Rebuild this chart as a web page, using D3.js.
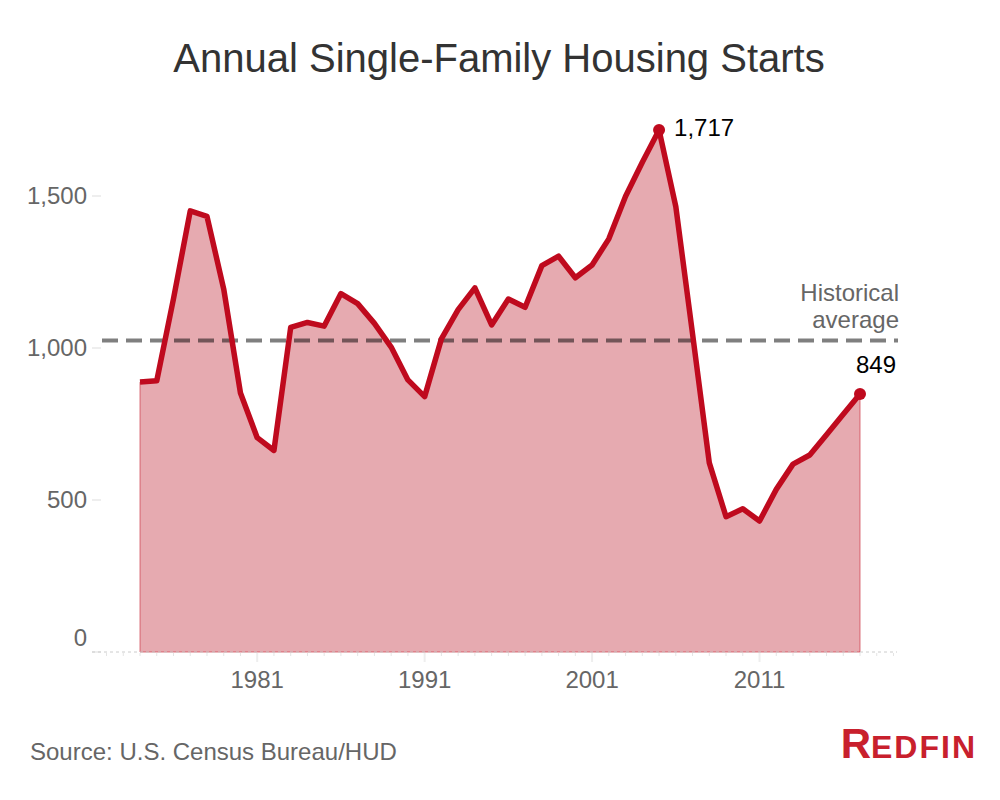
<!DOCTYPE html>
<html>
<head>
<meta charset="utf-8">
<script src="https://cdn.jsdelivr.net/npm/d3@7"></script>
<style>
  html, body { margin: 0; padding: 0; background: #fff; }
  svg { display: block; font-family: "Liberation Sans", Arial, Helvetica, sans-serif; }
</style>
</head>
<body>
<svg id="chart" width="1000" height="800"></svg>
<script>
// ---- data ----
const years = [1974,1975,1976,1977,1978,1979,1980,1981,1982,1983,1984,1985,1986,1987,1988,1989,1990,1991,1992,1993,1994,1995,1996,1997,1998,1999,2000,2001,2002,2003,2004,2005,2006,2007,2008,2009,2010,2011,2012,2013,2014,2015,2016,2017];
const starts = [888,892,1162,1451,1433,1194,852,705,663,1068,1084,1072,1179,1146,1081,1003,895,840,1030,1126,1198,1076,1161,1134,1271,1302,1231,1273,1359,1499,1611,1717,1465,1046,622,445,471,431,535,618,648,715,782,849];
const historicalAverage = [1025];
const yTickValues = [0, 500, 1000, 1500];
const xTickLabels = [1981, 1991, 2001, 2011];
const minorTickYears = d3.range(1972, 2020);
const highlightYears = [2005, 2017];
const titleText = "Annual Single-Family Housing Starts";
const sourceText = "Source: U.S. Census Bureau/HUD";
const avgLabel = ["Historical", "average"];

const data = years.map((y, i) => ({ year: y, value: starts[i] }));

const svg = d3.select("#chart");
const x = d3.scaleLinear().domain([1974, 2017]).range([140, 860]);
const y = d3.scaleLinear().domain([0, 1500]).range([652, 196]);
const fmt = d3.format(",");

// title
svg.append("text")
  .attr("x", 499).attr("y", 72)
  .attr("text-anchor", "middle")
  .attr("font-size", 40)
  .attr("fill", "#333")
  .text(titleText);

// y-axis ticks & labels
const yg = svg.append("g");
yg.selectAll("line").data(yTickValues).join("line")
  .attr("x1", 92).attr("x2", 101)
  .attr("y1", d => y(d)).attr("y2", d => y(d))
  .attr("stroke", "#eee").attr("stroke-width", 2);
yg.selectAll("text").data(yTickValues).join("text")
  .attr("x", 87)
  .attr("y", d => y(d) - (d === 0 ? 14 : 0))
  .attr("dy", "0.35em")
  .attr("text-anchor", "end")
  .attr("font-size", 24)
  .attr("fill", "#666")
  .text(d => fmt(d));

// area
const area = d3.area()
  .x(d => x(d.year)).y0(y(0)).y1(d => y(d.value));
svg.append("path").datum(data)
  .attr("d", area)
  .attr("fill", "rgb(230,170,176)")
  .attr("stroke", "rgba(205,60,75,0.7)")
  .attr("stroke-width", 1);

// baseline & x ticks
svg.append("line")
  .attr("x1", 92).attr("x2", 897)
  .attr("y1", y(0)).attr("y2", y(0))
  .attr("stroke", "#ccc").attr("stroke-width", 1)
  .attr("stroke-dasharray", "3,3");
svg.append("g").selectAll("line").data(minorTickYears).join("line")
  .attr("x1", d => x(d)).attr("x2", d => x(d))
  .attr("y1", y(0) + 1)
  .attr("y2", d => y(0) + (xTickLabels.includes(d) ? 10 : 4))
  .attr("stroke", d => xTickLabels.includes(d) ? "#eee" : "#e4e4e4")
  .attr("stroke-width", d => xTickLabels.includes(d) ? 2 : 1);
svg.append("g").selectAll("text").data(xTickLabels).join("text")
  .attr("x", d => x(d)).attr("y", 688)
  .attr("text-anchor", "middle")
  .attr("font-size", 24)
  .attr("fill", "#666")
  .text(d => d);

// historical average
svg.append("line")
  .attr("x1", 102).attr("x2", 898)
  .attr("y1", y(historicalAverage[0])).attr("y2", y(historicalAverage[0]))
  .attr("stroke", "#000").attr("stroke-opacity", 0.5)
  .attr("stroke-width", 4)
  .attr("stroke-dasharray", "16,8");
svg.append("g").selectAll("text").data(avgLabel).join("text")
  .attr("x", 899).attr("y", (d, i) => 301 + i * 27)
  .attr("text-anchor", "end")
  .attr("font-size", 24)
  .attr("fill", "#666")
  .text(d => d);

// line
const line = d3.line().x(d => x(d.year)).y(d => y(d.value));
svg.append("path").datum(data)
  .attr("d", line)
  .attr("fill", "none")
  .attr("stroke", "#bf0a1e")
  .attr("stroke-width", 5.5)
  .attr("stroke-linejoin", "round");

// highlighted points
const hl = data.filter(d => highlightYears.includes(d.year));
svg.append("g").selectAll("circle").data(hl).join("circle")
  .attr("cx", d => x(d.year)).attr("cy", d => y(d.value))
  .attr("r", 6).attr("fill", "#bf0a1e");
svg.append("g").selectAll("text").data(hl).join("text")
  .attr("x", d => d.year === 2005 ? x(d.year) + 15 : x(d.year) - 4)
  .attr("y", d => d.year === 2005 ? y(d.value) + 6 : y(d.value) - 21)
  .attr("text-anchor", "start")
  .attr("font-size", 24)
  .attr("fill", "#000")
  .text(d => fmt(d.value));

// source
svg.append("text")
  .attr("x", 30).attr("y", 760)
  .attr("font-size", 24)
  .attr("fill", "#666")
  .text(sourceText);

// logo
const logo = svg.append("text")
  .attr("x", 977).attr("y", 758)
  .attr("text-anchor", "end")
  .attr("font-weight", "bold")
  .attr("fill", "#c8202d")
  .attr("font-family", "'Liberation Sans', Arial, sans-serif");
logo.append("tspan").attr("font-size", 42).text("R");
logo.append("tspan").attr("font-size", 32).attr("letter-spacing", 2).text("EDFIN");
</script>
</body>
</html>
